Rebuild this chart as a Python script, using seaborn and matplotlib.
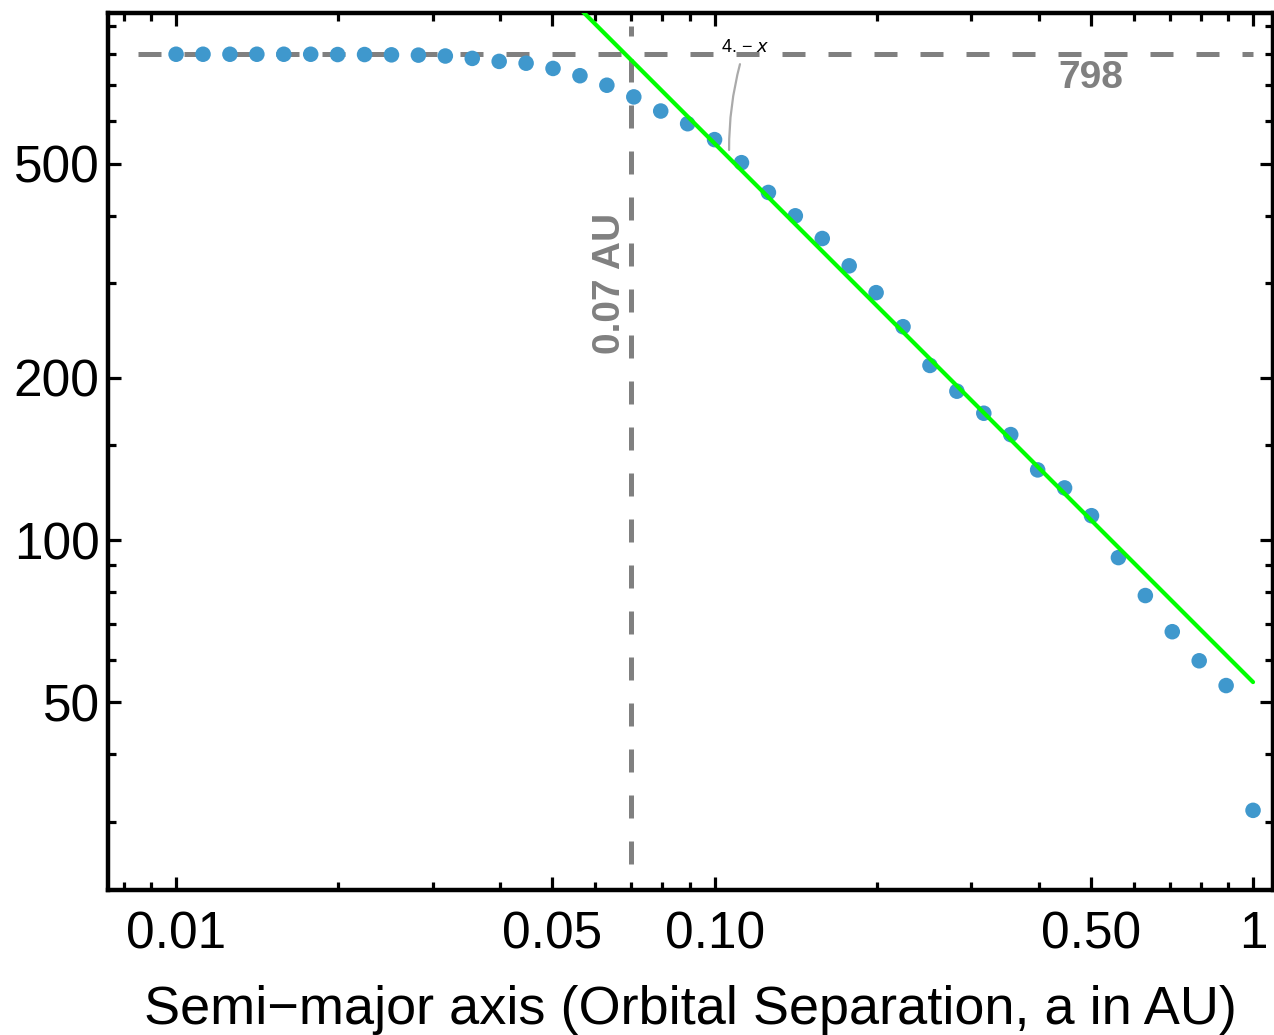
import matplotlib
matplotlib.use("Agg")
import numpy as np
import pandas as pd
import matplotlib.pyplot as plt
import seaborn as sns
from matplotlib.ticker import FixedLocator, FixedFormatter, NullFormatter

# semi-major axis (AU), log spaced 0.01 .. 1
semi_major = 10 ** np.linspace(-2, 0, 41)
# values
values = [798, 798, 798, 798, 798, 798, 797, 797, 796, 795,
          792, 784, 774, 768, 751, 728, 699, 665, 626, 593,
          554, 502, 442, 400, 363, 323, 288, 249, 211, 189,
          172, 157, 135, 125, 111, 92.8, 78.9, 67.6, 59.7, 53.7,
          31.5]

# power law fit, end points
fit_x = [0.01, 1.0]
fit_y = [5450, 54.5]

plateau = 798
cut = 0.07

x_major = [0.01, 0.05, 0.1, 0.5, 1]
x_major_labels = ["0.01", "0.05", "0.10", "0.50", "1"]
x_minor = [0.008, 0.009, 0.02, 0.03, 0.04, 0.06, 0.07, 0.08, 0.09,
           0.2, 0.3, 0.4, 0.6, 0.7, 0.8, 0.9]
y_major = [50, 100, 200, 500]
y_major_labels = ["50", "100", "200", "500"]
y_minor = [30, 40, 60, 70, 80, 90, 150, 300, 400, 600, 700, 800, 900]

df = pd.DataFrame({"a": semi_major, "v": values})
fit_df = pd.DataFrame({"a": fit_x, "v": fit_y})

sns.set_style("ticks")
plt.rcParams["font.family"] = ["Liberation Sans", "DejaVu Sans"]

fig = plt.figure(figsize=(12.74, 10.35), dpi=100)
ax = fig.add_axes([0.0848, 0.140, 0.9144, 0.8474])
ax.set_xscale("log")
ax.set_yscale("log")

gray = "#808080"
dash = (0, (4.6, 4.6))

# reference lines
ax.plot([0.0085, 1.0], [plateau, plateau], color=gray, lw=3.6, ls=dash, zorder=1)
ax.plot([cut, cut], [25, 900], color=gray, lw=3.6, ls=dash, zorder=1)

sns.scatterplot(data=df, x="a", y="v", ax=ax, color="#3f98cd", s=125,
                edgecolor="none", zorder=3)
sns.lineplot(data=fit_df, x="a", y="v", ax=ax, color="#00ff00", lw=3.0,
             zorder=4)

ax.set_xlim(0.007475, 1.089)
ax.set_ylim(22.4, 951.7)

ax.xaxis.set_major_locator(FixedLocator(x_major))
ax.xaxis.set_major_formatter(FixedFormatter(x_major_labels))
ax.xaxis.set_minor_locator(FixedLocator(x_minor))
ax.xaxis.set_minor_formatter(NullFormatter())
ax.yaxis.set_major_locator(FixedLocator(y_major))
ax.yaxis.set_major_formatter(FixedFormatter(y_major_labels))
ax.yaxis.set_minor_locator(FixedLocator(y_minor))
ax.yaxis.set_minor_formatter(NullFormatter())

ax.tick_params(which="both", direction="in", top=True, right=True,
               color="black", labelcolor="black", width=2.3)
ax.tick_params(which="major", length=9.4, labelsize=37)
ax.tick_params(axis="x", which="major", pad=14.5)
ax.tick_params(axis="y", which="major", pad=6)
ax.tick_params(which="minor", length=5.8)
for sp in ax.spines.values():
    sp.set_visible(True)
    sp.set_linewidth(3.2)
    sp.set_color("black")

ax.set_xlabel("Semi\u2212major axis (Orbital Separation, a in AU)",
              fontsize=39, color="black")
ax.xaxis.set_label_coords(0.5, -0.108)
ax.set_ylabel("")

# labels on the reference lines
ax.text(0.5, 721, "798", color=gray, fontsize=28, fontweight="bold",
        ha="center", va="center")
ax.text(0.064, 300, "0.07 AU", color=gray, fontsize=28, fontweight="bold",
        ha="center", va="center", rotation=90)

# callout for the fit
ax.annotate("4. \u2212 $x$", xy=(0.1064, 530), xytext=(0.1139, 823),
            fontsize=13, ha="center", va="center", color="black",
            arrowprops=dict(arrowstyle="-", color="#aaaaaa", lw=1.6,
                            connectionstyle="arc3,rad=0.08",
                            shrinkA=4, shrinkB=0))

fig.savefig("out.png", dpi=100)
